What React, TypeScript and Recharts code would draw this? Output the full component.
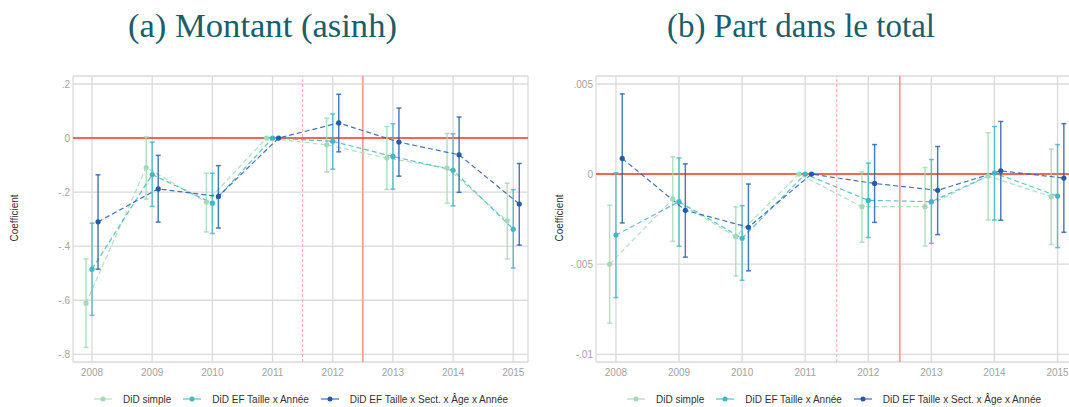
import React from "react";
import {
  ComposedChart,
  Line,
  XAxis,
  YAxis,
  CartesianGrid,
  ReferenceLine,
  ErrorBar,
} from "recharts";

// ---------- data ----------
const years = [2008, 2009, 2010, 2011, 2012, 2013, 2014, 2015];
const seriesNames = [
  "DiD simple",
  "DiD EF Taille x Année",
  "DiD EF Taille x Sect. x Âge x Année",
];

// (a) Montant (asinh)
const mSimple = [-0.611, -0.109, -0.237, 0, -0.025, -0.074, -0.111, -0.306];
const mSimpleLo = [-0.775, -0.226, -0.347, 0, -0.126, -0.19, -0.241, -0.447];
const mSimpleHi = [-0.447, 0.004, -0.13, 0, 0.074, 0.043, 0.017, -0.167];
const mTaille = [-0.485, -0.135, -0.241, 0, -0.012, -0.068, -0.119, -0.337];
const mTailleLo = [-0.656, -0.253, -0.353, 0, -0.115, -0.189, -0.251, -0.481];
const mTailleHi = [-0.315, -0.015, -0.13, 0, 0.089, 0.053, 0.016, -0.191];
const mFull = [-0.31, -0.188, -0.216, 0, 0.056, -0.015, -0.062, -0.244];
const mFullLo = [-0.485, -0.311, -0.333, 0, -0.051, -0.141, -0.201, -0.396];
const mFullHi = [-0.136, -0.064, -0.102, 0, 0.162, 0.111, 0.078, -0.094];

// (b) Part dans le total
const pSimple = [-0.005, -0.00138, -0.00347, 0, -0.00181, -0.00181, -0.00011, -0.00125];
const pSimpleLo = [-0.00827, -0.00373, -0.00566, 0, -0.00378, -0.00399, -0.00255, -0.00391];
const pSimpleHi = [-0.00173, 0.00096, -0.00181, 0, 0.00013, 0.00037, 0.00229, 0.00138];
const pTaille = [-0.00338, -0.00153, -0.00356, 0, -0.00146, -0.00153, 0.00006, -0.00122];
const pTailleLo = [-0.00685, -0.004, -0.00589, 0, -0.00352, -0.00384, -0.00255, -0.00408];
const pTailleHi = [0.00007, 0.0009, -0.00175, 0, 0.00061, 0.00081, 0.00264, 0.00164];
const pFull = [0.00087, -0.00201, -0.00295, 0, -0.00052, -0.0009, 0.00018, -0.00022];
const pFullLo = [-0.00271, -0.00461, -0.00537, 0, -0.00268, -0.00336, -0.00256, -0.00323];
const pFullHi = [0.00445, 0.00057, -0.00055, 0, 0.00164, 0.00153, 0.00292, 0.0028];

const yTicksA = [0.2, 0, -0.2, -0.4, -0.6, -0.8];
const yTicksB = [0.005, 0, -0.005, -0.01];

// ---------- styles ----------
const COLORS = ["#a1dab4", "#41b6c4", "#225ea8"];
const OFFSETS = [-0.1, 0, 0.1];
const X_DOMAIN: [number, number] = [2007.684, 2015.245];
const TICK_FILL = "#a3a3a3";
const GRID = "#dadada";
const SANS = "'Liberation Sans', Arial, sans-serif";
const SERIF = "'Liberation Serif', 'Times New Roman', serif";

type Row = { x: number; y: number; err: [number, number] | null };

function build(est: number[], lo: number[], hi: number[], k: number): Row[] {
  return years.map((yr, i) => ({
    x: yr + OFFSETS[k],
    y: est[i],
    err: lo[i] === hi[i] ? null : [est[i] - lo[i], hi[i] - est[i]],
  }));
}

const fmt = (v: number) => (v === 0 ? "0" : String(v).replace("0.", "."));

type PanelProps = {
  left: number;
  width: number;
  yAxisWidth: number;
  marginRight: number;
  yDomain: [number, number];
  yTicks: number[];
  data: Row[][];
};

function Panel({ left, width, yAxisWidth, marginRight, yDomain, yTicks, data }: PanelProps) {
  return (
    <div style={{ position: "absolute", left, top: 0 }}>
      <ComposedChart
        width={width}
        height={407}
        margin={{ top: 76, right: marginRight, bottom: 15, left: 0 }}
      >
        <CartesianGrid stroke={GRID} strokeWidth={1.3} />
        <XAxis
          type="number"
          dataKey="x"
          domain={X_DOMAIN}
          ticks={years}
          interval={0}
          allowDataOverflow
          axisLine={false}
          tickLine={false}
          tickSize={0}
          tickMargin={7}
          height={30}
          tick={{ fill: TICK_FILL, fontSize: 10, fontFamily: SANS }}
        />
        <YAxis
          type="number"
          domain={yDomain}
          ticks={yTicks}
          interval={0}
          allowDataOverflow
          axisLine={false}
          tickLine={false}
          tickSize={0}
          tickMargin={3}
          width={yAxisWidth}
          tickFormatter={fmt}
          tick={{ fill: TICK_FILL, fontSize: 10, fontFamily: SANS }}
        />
        <ReferenceLine x={2011.5} stroke="#f9ada3" strokeWidth={1} strokeDasharray="3 2" />
        <ReferenceLine x={2012.5} stroke="#f5a097" strokeWidth={1.8} />
        <ReferenceLine y={0} stroke="#ff3a1e" strokeWidth={1.5} />
        {data.map((rows, k) => (
          <Line
            key={k}
            data={rows}
            dataKey="y"
            type="linear"
            stroke={COLORS[k]}
            strokeWidth={1.2}
            strokeOpacity={0.85}
            strokeDasharray="5 3"
            dot={{ r: 2.6, fill: COLORS[k], stroke: COLORS[k], strokeWidth: 0 }}
            activeDot={false}
            isAnimationActive={false}
          >
            <ErrorBar
              dataKey="err"
              direction="y"
              width={2.5}
              stroke={COLORS[k]}
              strokeWidth={1.5}
              strokeOpacity={0.8}
              isAnimationActive={false}
            />
          </Line>
        ))}
      </ComposedChart>
    </div>
  );
}

function LegendRow({ center }: { center: number }) {
  return (
    <div
      style={{
        position: "absolute",
        left: center - 300,
        width: 600,
        top: 392,
        height: 14,
        display: "flex",
        justifyContent: "center",
        alignItems: "center",
        gap: 12,
        fontFamily: SANS,
        fontSize: 10,
        color: "#333",
        whiteSpace: "nowrap",
      }}
    >
      {seriesNames.map((name, k) => (
        <div key={k} style={{ display: "flex", alignItems: "center", gap: 11 }}>
          <svg width={18} height={8}>
            <line x1={0} y1={4} x2={18} y2={4} stroke={COLORS[k]} strokeWidth={1.5} strokeOpacity={0.7} />
            <circle cx={9} cy={4} r={2.5} fill={COLORS[k]} />
          </svg>
          <span>{name}</span>
        </div>
      ))}
    </div>
  );
}

export default function App() {
  const dataA = [
    build(mSimple, mSimpleLo, mSimpleHi, 0),
    build(mTaille, mTailleLo, mTailleHi, 1),
    build(mFull, mFullLo, mFullHi, 2),
  ];
  const dataB = [
    build(pSimple, pSimpleLo, pSimpleHi, 0),
    build(pTaille, pTailleLo, pTailleHi, 1),
    build(pFull, pFullLo, pFullHi, 2),
  ];
  return (
    <div
      style={{
        position: "absolute",
        left: 0,
        top: 0,
        width: 1069,
        height: 407,
        overflow: "hidden",
        background: "#fff",
      }}
    >
      <Panel
        left={0}
        width={540}
        yAxisWidth={73}
        marginRight={12}
        yDomain={[-0.8285, 0.2296]}
        yTicks={yTicksA}
        data={dataA}
      />
      <Panel
        left={540}
        width={540}
        yAxisWidth={56}
        marginRight={7}
        yDomain={[-0.010427, 0.005444]}
        yTicks={yTicksB}
        data={dataB}
      />
      <svg
        width={1069}
        height={407}
        style={{ position: "absolute", left: 0, top: 0, pointerEvents: "none" }}
      >
        <text
          x={262.5}
          y={37}
          textAnchor="middle"
          fontFamily={SERIF}
          fontSize={34.5}
          textLength={269}
          lengthAdjust="spacingAndGlyphs"
          fill="#1b5d6b"
        >
          (a) Montant (asinh)
        </text>
        <text
          x={801}
          y={37}
          textAnchor="middle"
          fontFamily={SERIF}
          fontSize={34.5}
          textLength={268}
          lengthAdjust="spacingAndGlyphs"
          fill="#1b5d6b"
        >
          (b) Part dans le total
        </text>
        <text
          transform="translate(17.5,218) rotate(-90)"
          textAnchor="middle"
          fontFamily={SANS}
          fontSize={10}
          fill="#333"
        >
          Coefficient
        </text>
        <text
          transform="translate(562.5,218) rotate(-90)"
          textAnchor="middle"
          fontFamily={SANS}
          fontSize={10}
          fill="#333"
        >
          Coefficient
        </text>
      </svg>
      <LegendRow center={301} />
      <LegendRow center={834} />
    </div>
  );
}
